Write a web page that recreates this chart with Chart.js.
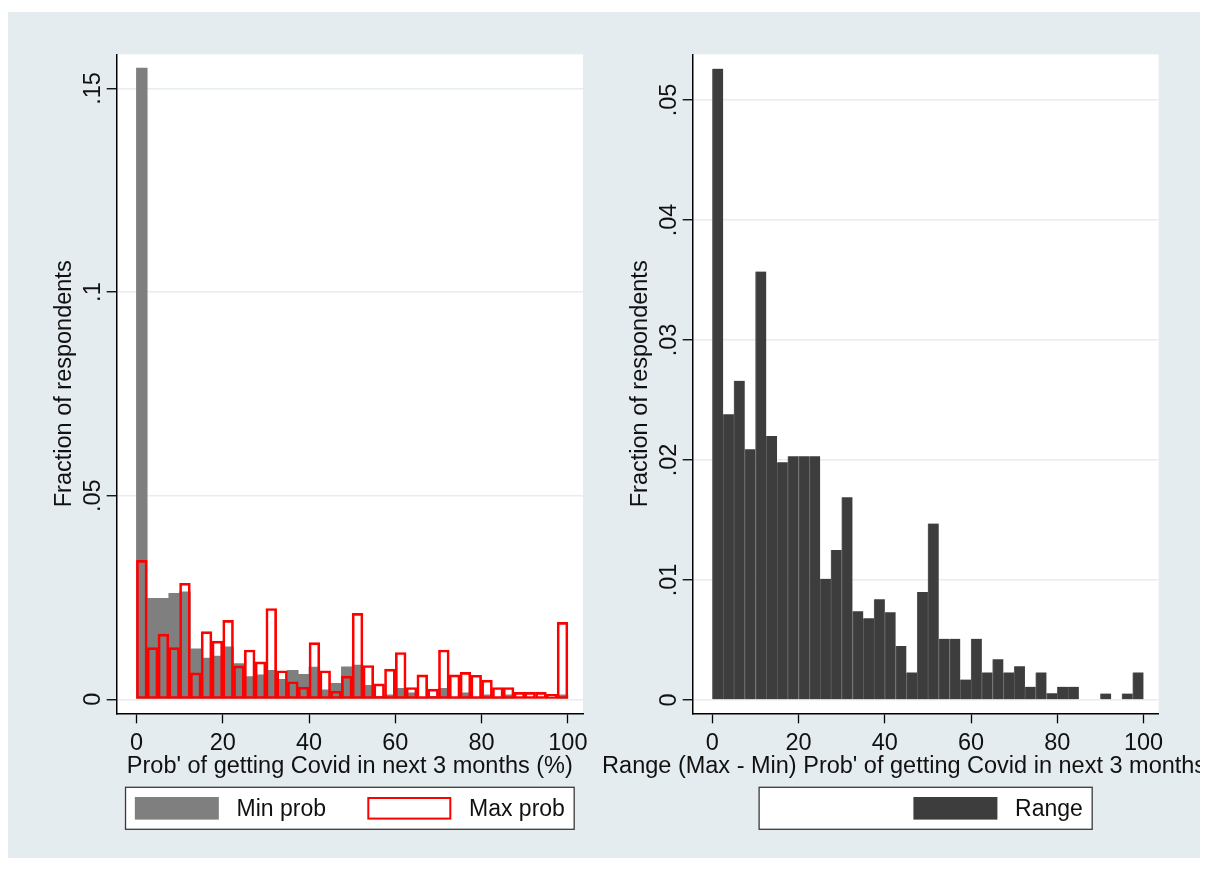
<!DOCTYPE html>
<html>
<head>
<meta charset="utf-8">
<script src="https://cdn.jsdelivr.net/npm/chart.js@4.4.1/dist/chart.umd.min.js"></script>
<style>
  html, body { margin: 0; padding: 0; background: #fff; }
  #frame { position: absolute; left: 8px; top: 12px; width: 1192px; height: 846px; background: #e5ecf0; overflow: hidden; }
  .panel { position: absolute; top: 0; width: 596px; height: 846px; }
  #left { left: 0; }
  #right { left: 596px; }
</style>
</head>
<body>
<div id="frame">
  <div class="panel" id="left"><canvas id="minmax"></canvas></div>
  <div class="panel" id="right"><canvas id="range"></canvas></div>
</div>
<script>
// histogram bins are 2.5 points wide, 0..100
const binWidth = 2.5
const minProb = [0.155, 0.0248, 0.0248, 0.026, 0.0264, 0.0124, 0.0101, 0.0106, 0.0129, 0.0088,
                 0.0056, 0.006, 0.0071, 0.0049, 0.0071, 0.0061, 0.0079, 0.0023, 0.0039, 0.008,
                 0.0084, 0.0034, 0.0007, 0.0011, 0.0027, 0.0016, 0.0005, 0.0007, 0.0027, 0.0005,
                 0.0016, 0.0005, 0.0011, 0.0005, 0.0011, 0.0002, 0.0002, 0.0002, 0.0002, 0.0011]
const maxProb = [0.0341, 0.0127, 0.016, 0.0127, 0.0285, 0.0065, 0.0166, 0.0143, 0.0194, 0.0082,
                 0.0121, 0.0092, 0.0223, 0.007, 0.0043, 0.003, 0.0139, 0.007, 0.002, 0.0057,
                 0.0211, 0.0083, 0.0038, 0.0074, 0.0115, 0.0029, 0.006, 0.0025, 0.0121, 0.006,
                 0.0066, 0.0059, 0.0047, 0.0029, 0.0029, 0.0017, 0.0017, 0.0017, 0.0012, 0.0189]
const rangeProb = [0.0526, 0.0238, 0.0266, 0.0209, 0.0357, 0.022, 0.0198, 0.0203, 0.0203, 0.0203,
                   0.0101, 0.0125, 0.0169, 0.0074, 0.0068, 0.0084, 0.0073, 0.0045, 0.0023, 0.009,
                   0.0147, 0.0051, 0.0051, 0.0017, 0.0051, 0.0023, 0.0034, 0.0023, 0.0028, 0.0011,
                   0.0023, 0.00056, 0.0011, 0.0011, 0, 0, 0.00053, 0, 0.00053, 0.0023]
const xTicks = [0, 20, 40, 60, 80, 100]
const leftYTicks = [0, 0.05, 0.1, 0.15]
const rightYTicks = [0, 0.01, 0.02, 0.03, 0.04, 0.05]

const binCenters = minProb.map((v, i) => (i + 0.5) * binWidth)
const toPoints = arr => arr.map((v, i) => ({x: binCenters[i], y: v}))

const FONT = "'Liberation Sans', Arial, sans-serif"
Chart.defaults.font.family = FONT
Chart.defaults.font.size = 23.5
Chart.defaults.color = '#111'

// white plot region like stata
const plotBg = {
  id: 'plotBg',
  beforeDraw(chart) {
    const a = chart.chartArea, ctx = chart.ctx
    ctx.save()
    ctx.fillStyle = '#fff'
    ctx.fillRect(a.left, a.top, a.right - a.left, a.bottom - a.top)
    ctx.restore()
  }
}

// x title drawn without maxWidth so the long one runs off the edge
const xTitle = {
  id: 'xTitle',
  afterDraw(chart, args, opts) {
    const a = chart.chartArea, ctx = chart.ctx
    ctx.save()
    ctx.font = '23.5px ' + FONT
    ctx.fillStyle = '#111'
    ctx.textAlign = 'center'
    ctx.textBaseline = 'middle'
    ctx.fillText(opts.text, (a.left + a.right) / 2, chart.scales.x.top + opts.offset)
    ctx.restore()
  }
}

// boxed legend under the axis title
const boxLegend = {
  id: 'boxLegend',
  afterDraw(chart, args, opts) {
    const ctx = chart.ctx, a = chart.chartArea
    ctx.save()
    ctx.font = '23px ' + FONT
    const items = chart.data.datasets.map((ds, i) => ({label: ds.label, key: opts.keys[i], w: ctx.measureText(ds.label).width}))
    let width = opts.pad * 2 + opts.lead
    items.forEach((it, i) => { width += opts.swatch + opts.gap + it.w + (i ? opts.colGap : 0) })
    const left = (a.left + a.right) / 2 - width / 2
    ctx.fillStyle = '#fff'
    ctx.fillRect(left, opts.top, width, opts.height)
    ctx.strokeStyle = '#3a3a3a'
    ctx.lineWidth = 1.3
    ctx.strokeRect(left, opts.top, width, opts.height)
    let x = left + opts.pad + opts.lead
    const sy = opts.top + (opts.height - opts.swatchH) / 2
    items.forEach((it, i) => {
      if (i) x += opts.colGap
      ctx.fillStyle = it.key.fill
      ctx.fillRect(x, sy, opts.swatch, opts.swatchH)
      if (it.key.stroke) {
        ctx.strokeStyle = it.key.stroke
        ctx.lineWidth = 2
        ctx.strokeRect(x + 1, sy + 1, opts.swatch - 2, opts.swatchH - 2)
      }
      x += opts.swatch + opts.gap
      ctx.fillStyle = '#111'
      ctx.textAlign = 'left'
      ctx.textBaseline = 'middle'
      ctx.fillText(it.label, x, opts.top + opts.height / 2 + 1)
      x += it.w
    })
    ctx.restore()
  }
}

const fracLabel = v => v === 0 ? '0' : String(+v.toFixed(3)).replace(/^0/, '')

function makeScales(yTicks, yMin, yMax, yWidth, yTitlePad) {
  return {
    x: {
      type: 'linear', min: -4.57, max: 103.5, offset: false,
      afterBuildTicks: s => { s.ticks = xTicks.map(v => ({value: v})) },
      afterFit: s => { s.height = 70 },
      grid: {display: true, drawOnChartArea: false, offset: false, tickLength: 10, tickColor: '#000', tickWidth: 1.3},
      border: {display: true, color: '#000', width: 1.5},
      ticks: {padding: 6.5, maxRotation: 0, autoSkip: false, color: '#111'}
    },
    y: {
      min: yMin, max: yMax,
      afterBuildTicks: s => { s.ticks = yTicks.map(v => ({value: v})) },
      afterFit: s => { s.width = yWidth },
      grid: {color: '#e6edf0', lineWidth: 1.5, tickLength: 10, tickColor: '#000', tickWidth: 1.3},
      border: {display: true, color: '#000', width: 1.5},
      ticks: {minRotation: 90, maxRotation: 90, crossAlign: 'center', padding: -3.5, autoSkip: false, color: '#111', callback: fracLabel},
      title: {display: true, text: 'Fraction of respondents', color: '#111', padding: {top: yTitlePad, bottom: 0}}
    }
  }
}

const legendBase = {top: 775.3, height: 42, pad: 9.3, swatch: 84, swatchH: 22.6, gap: 17.7, colGap: 41.3}

new Chart(document.querySelector('#minmax'), {
  type: 'bar',
  data: {
    datasets: [{
      label: 'Min prob',
      data: toPoints(minProb),
      backgroundColor: '#7f7f7f',
      borderWidth: 0,
      grouped: false, barPercentage: 1, categoryPercentage: 1,
      order: 2
    }, {
      label: 'Max prob',
      data: toPoints(maxProb),
      backgroundColor: 'rgba(0,0,0,0)',
      borderColor: '#ff0000',
      borderWidth: 2,
      borderSkipped: false,
      grouped: false, barPercentage: 1, categoryPercentage: 1,
      order: 1
    }]
  },
  options: {
    responsive: true, maintainAspectRatio: false, animation: false,
    layout: {padding: {top: 42.3, left: 0, right: 21, bottom: 74.7}},
    scales: makeScales(leftYTicks, -0.00344, 0.1584, 108.7, 42.8),
    plugins: {
      legend: {display: false}, tooltip: {enabled: false},
      xTitle: {text: "Prob' of getting Covid in next 3 months (%)", offset: 53.5},
      boxLegend: Object.assign({}, legendBase, {lead: 0, keys: [{fill: '#7f7f7f'}, {fill: '#fff', stroke: '#ff0000'}]})
    }
  },
  plugins: [plotBg, xTitle, boxLegend]
})

new Chart(document.querySelector('#range'), {
  type: 'bar',
  data: {
    datasets: [{
      label: 'Range',
      data: toPoints(rangeProb),
      backgroundColor: '#3d3d3d',
      borderColor: '#5c5c5c',
      borderWidth: {left: 1, top: 0, right: 0, bottom: 0},
      borderSkipped: false,
      grouped: false, barPercentage: 1, categoryPercentage: 1
    }]
  },
  options: {
    responsive: true, maintainAspectRatio: false, animation: false,
    layout: {padding: {top: 42.3, left: 0, right: 41.4, bottom: 74.7}},
    scales: makeScales(rightYTicks, -0.00111, 0.0538, 88.7, 22.8),
    plugins: {
      legend: {display: false}, tooltip: {enabled: false},
      xTitle: {text: "Range (Max - Min) Prob' of getting Covid in next 3 months (%)", offset: 53.5},
      boxLegend: Object.assign({}, legendBase, {lead: 145, keys: [{fill: '#3d3d3d'}]})
    }
  },
  plugins: [plotBg, xTitle, boxLegend]
})
</script>
</body>
</html>
